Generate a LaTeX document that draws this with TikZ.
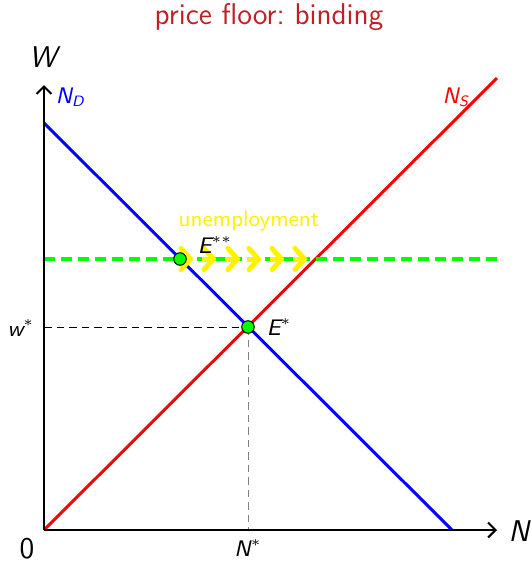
\documentclass[tikz,border=0pt]{standalone}
\usetikzlibrary{arrows.meta,calc}
\definecolor{titlered}{RGB}{190,32,38}
\begin{document}
\begin{tikzpicture}[x=0.4pt,y=-0.4pt,font=\sffamily,
  axis/.style={line width=0.8pt,-{Straight Barb[length=3pt,width=6pt]}},
  curve/.style={line width=1.2pt},
  floorline/.style={green,line width=1.6pt,dash pattern=on 4.4pt off 2.4pt},
  guide/.style={line width=0.4pt,dash pattern=on 3pt off 2pt},
  uarrow/.style={yellow,line width=2pt,-{Straight Barb[length=3.8pt,width=8.5pt,round]}},
  eqpt/.style={circle,draw=black,fill=green,line width=0.4pt,inner sep=0pt,minimum size=5pt},
  lab/.style={inner sep=1pt}]
\useasboundingbox (0,0) rectangle (532,561);
\node[titlered,font=\sffamily\large] (title) at (269,17) {price floor:\ binding};
\coordinate (O) at (44,530);
\coordinate (xend) at (497,530);
\coordinate (yend) at (44,85);
\coordinate (ND1) at (44,123);
\coordinate (ND2) at (452,530);
\coordinate (NS2) at (497,78);
\coordinate (F1) at (44,259);
\coordinate (F2) at (500,259);
\coordinate (wst) at (44,327);
\coordinate (Nst) at (248,530);
% guides
\draw[guide] (wst) -- (248,327) coordinate (Estc);
\draw[guide,gray] (Estc) -- (Nst);
% curves
\draw[curve,blue] (ND1) -- (ND2);
\draw[curve,red] (O) -- (NS2);
% price floor
\draw[floorline] (F1) -- (F2);
% axes
\draw[axis] (O) -- (xend);
\draw[axis] (O) -- (yend);
% unemployment arrows
\coordinate (Ess) at (180,259);
\foreach \s/\t in {3/13,22/36,45/60,67/81,90/104,113/127}
  \draw[uarrow] ($(Ess)+(\s,0)$) -- ($(Ess)+(\t,0)$);
% points
\node[eqpt] (Es) at (Estc) {};
\node[eqpt] (Ess2) at (Ess) {};
% labels
\node[font=\sffamily\large\itshape] (Wlab) at (43,57) {W};
\node[font=\sffamily\large\itshape] (Nlab) at (519,531) {N};
\node[font=\sffamily\large] (zero) at (27,549) {0};
\node[blue,font=\sffamily\small\itshape,anchor=west] (NDlab) at (47,97) {N\textsubscript{D}};
\node[red,font=\sffamily\small\itshape,anchor=east] (NSlab) at (478,97) {N\textsubscript{S}};
\node[font=\sffamily\small\itshape] (wlab) at (21,328) {w$^*$};
\node[font=\sffamily\small\itshape] (Nstlab) at (248,548) {N$^*$};
\node[font=\sffamily\small\itshape,anchor=west] (Estlab) at (258,327) {E$^*$};
\node[font=\sffamily\small\itshape] (Esslab) at (215,245) {E$^{**}$};
\node[yellow,font=\sffamily\small] (unemp) at (249,221) {unemployment};
\end{tikzpicture}
\end{document}
